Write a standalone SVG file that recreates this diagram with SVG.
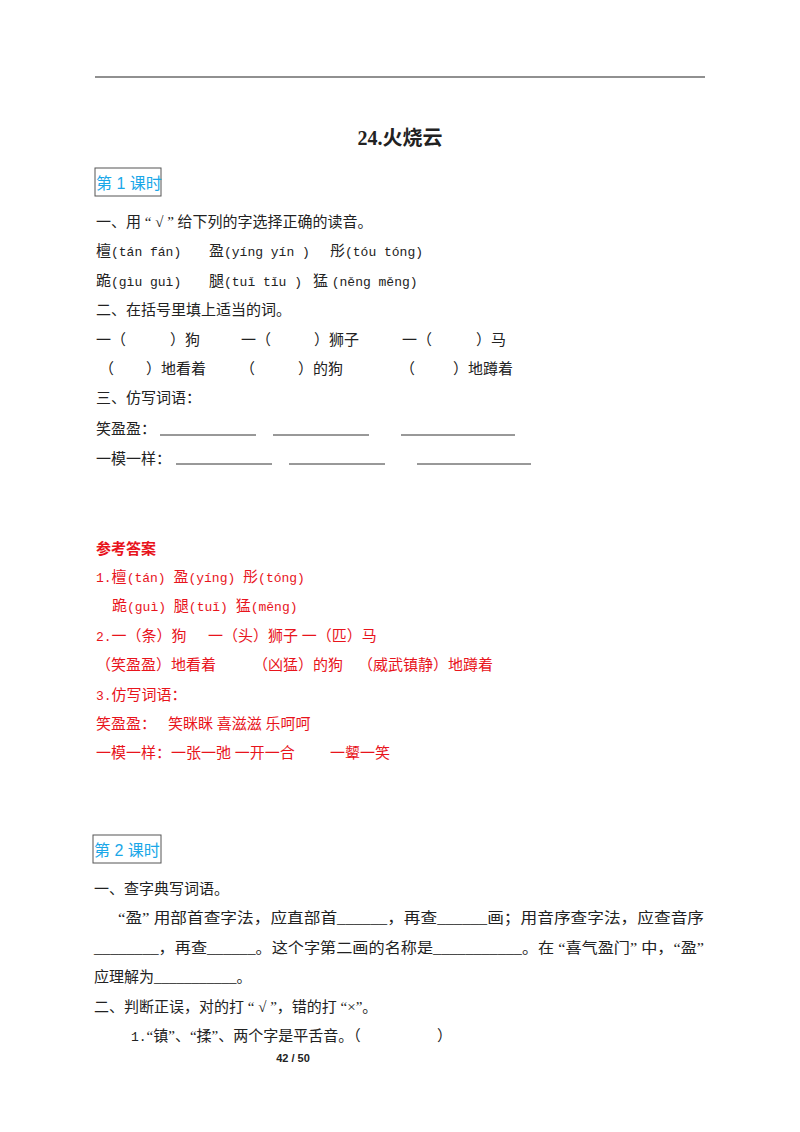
<svg xmlns="http://www.w3.org/2000/svg" width="800" height="1132" viewBox="0 0 800 1132">
<style>
text{font-family:"Liberation Serif","Noto Sans CJK SC",serif;font-size:15px;fill:#222}
.m{font-family:"Liberation Mono","Noto Sans CJK SC",monospace;font-size:13px}
.r{fill:#e8141c}
.h{font-family:"Liberation Sans","Noto Sans CJK SC",sans-serif;fill:#1aa7e8;font-size:16px}
.u{stroke:#333;stroke-width:1}
.bx{fill:none;stroke:#555;stroke-width:1}
</style>
<rect width="800" height="1132" fill="#fff"/>
<line x1="95" y1="77" x2="705" y2="77" stroke="#222" stroke-width="1.2"/>
<text x="400" y="145" text-anchor="middle" style="font-size:20px;font-weight:bold">24.火烧云</text>
<rect class="bx" x="95" y="168" width="66" height="28"/>
<text class="h" x="96" y="189">第 1 课时</text>
<text x="96" y="227">一、用 “ √ ” 给下列的字选择正确的读音。</text>
<text x="96" y="256">檀<tspan class="m">(tán fán)</tspan></text><text x="209" y="256">盈<tspan class="m">(yíng  yín )</tspan></text><text x="330" y="256">彤<tspan class="m">(tóu  tóng)</tspan></text>
<text x="96" y="286">跪<tspan class="m">(gìu  guì)</tspan></text><text x="209" y="286">腿<tspan class="m">(tuǐ tǐu )</tspan></text><text x="313" y="286">猛 <tspan class="m">(něng  měng)</tspan></text>
<text x="96" y="315">二、在括号里填上适当的词。</text>
<text x="96" y="345">一（</text><text x="170" y="345">）狗</text><text x="241" y="345">一（</text><text x="314" y="345">）狮子</text><text x="402" y="345">一（</text><text x="476" y="345">）马</text>
<text x="99" y="374">（</text><text x="146" y="374">）地看着</text><text x="240" y="374">（</text><text x="298" y="374">）的狗</text><text x="400" y="374">（</text><text x="453" y="374">）地蹲着</text>
<text x="96" y="403">三、仿写词语：</text>
<text x="96" y="434">笑盈盈：</text>
<line class="u" x1="160" y1="435" x2="256" y2="435"/><line class="u" x1="273" y1="435" x2="369" y2="435"/><line class="u" x1="401" y1="435" x2="515" y2="435"/>
<text x="96" y="464">一模一样：</text>
<line class="u" x1="176" y1="464" x2="272" y2="464"/><line class="u" x1="289" y1="464" x2="385" y2="464"/><line class="u" x1="417" y1="464" x2="531" y2="464"/>
<text class="r" x="96" y="554" style="font-weight:bold">参考答案</text>
<text class="r" x="96" y="582"><tspan class="m">1.</tspan>檀<tspan class="m">(tán) </tspan>盈<tspan class="m">(yíng) </tspan>彤<tspan class="m">(tóng)</tspan></text>
<text class="r" x="112" y="611">跪<tspan class="m">(guì) </tspan>腿<tspan class="m">(tuǐ) </tspan>猛<tspan class="m">(měng)</tspan></text>
<text class="r" x="96" y="641"><tspan class="m">2.</tspan>一（条）狗</text><text class="r" x="208" y="641">一（头）狮子 一（匹）马</text>
<text class="r" x="96" y="670">（笑盈盈）地看着</text><text class="r" x="253" y="670">（凶猛）的狗</text><text class="r" x="358" y="670">（威武镇静）地蹲着</text>
<text class="r" x="96" y="700"><tspan class="m">3.</tspan>仿写词语：</text>
<text class="r" x="96" y="729">笑盈盈：</text><text class="r" x="168" y="729">笑眯眯 喜滋滋 乐呵呵</text>
<text class="r" x="96" y="758">一模一样：一张一弛 一开一合</text><text class="r" x="330" y="758">一颦一笑</text>
<rect class="bx" x="93" y="835" width="68" height="28"/>
<text class="h" x="94" y="856">第 2 课时</text>
<text x="94" y="894">一、查字典写词语。</text>
<text x="118" y="923" textLength="586" lengthAdjust="spacingAndGlyphs">“盈” 用部首查字法，应直部首______，再查______画；用音序查字法，应查音序</text>
<text x="94" y="953" textLength="610" lengthAdjust="spacingAndGlyphs">________，再查______。这个字第二画的名称是___________。在 “喜气盈门” 中，“盈”</text>
<text x="94" y="982">应理解为___________。</text>
<text x="94" y="1012">二、判断正误，对的打 “ √ ”，错的打 “×”。</text>
<text x="131" y="1041"><tspan class="m">1.</tspan>“镇”、“揉”、两个字是平舌音。（</text><text x="437" y="1041">）</text>
<text x="293" y="1062" text-anchor="middle" style="font-family:'Liberation Sans',sans-serif;font-size:11px;font-weight:bold">42 / 50</text>
</svg>
